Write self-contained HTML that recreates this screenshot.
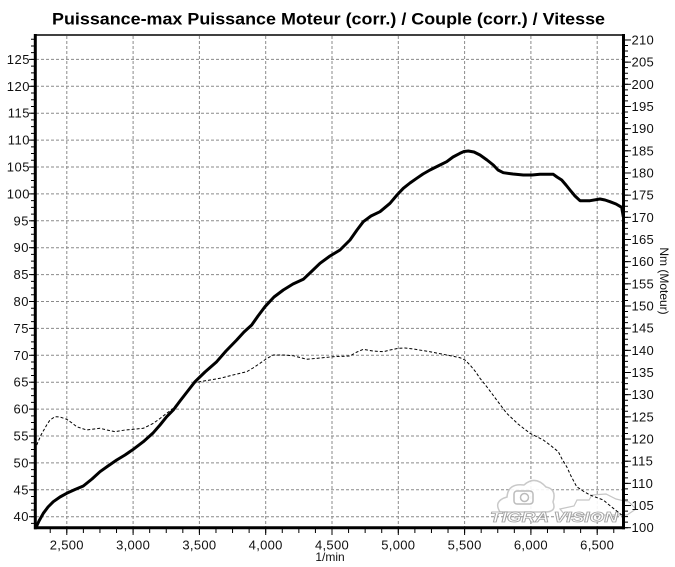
<!DOCTYPE html>
<html>
<head>
<meta charset="utf-8">
<style>
html,body{margin:0;padding:0;background:#fff;}
svg{display:block;}
text{font-family:"Liberation Sans",Arial,sans-serif;fill:#111;}
</style>
</head>
<body>
<svg width="675" height="567" viewBox="0 0 675 567" xmlns="http://www.w3.org/2000/svg">
<rect width="675" height="567" fill="#fff"/>

<!-- Title -->
<text x="52" y="24.5" font-size="17" font-weight="bold" textLength="553" lengthAdjust="spacingAndGlyphs" style="fill:#000">Puissance-max Puissance Moteur (corr.) / Couple (corr.) / Vitesse</text>

<!-- Horizontal grid -->
<g stroke="#8a8a8a" stroke-width="1" stroke-dasharray="3 2" fill="none">
<line x1="36" x2="623" y1="516.7" y2="516.7"/>
<line x1="36" x2="623" y1="489.8" y2="489.8"/>
<line x1="36" x2="623" y1="462.9" y2="462.9"/>
<line x1="36" x2="623" y1="436.0" y2="436.0"/>
<line x1="36" x2="623" y1="409.1" y2="409.1"/>
<line x1="36" x2="623" y1="382.2" y2="382.2"/>
<line x1="36" x2="623" y1="355.3" y2="355.3"/>
<line x1="36" x2="623" y1="328.4" y2="328.4"/>
<line x1="36" x2="623" y1="301.5" y2="301.5"/>
<line x1="36" x2="623" y1="274.6" y2="274.6"/>
<line x1="36" x2="623" y1="247.7" y2="247.7"/>
<line x1="36" x2="623" y1="220.8" y2="220.8"/>
<line x1="36" x2="623" y1="193.9" y2="193.9"/>
<line x1="36" x2="623" y1="167.0" y2="167.0"/>
<line x1="36" x2="623" y1="140.1" y2="140.1"/>
<line x1="36" x2="623" y1="113.2" y2="113.2"/>
<line x1="36" x2="623" y1="86.3" y2="86.3"/>
<line x1="36" x2="623" y1="59.4" y2="59.4"/>
<!-- Vertical grid -->
<line y1="36" y2="527" x1="66.8" x2="66.8"/>
<line y1="36" y2="527" x1="133.1" x2="133.1"/>
<line y1="36" y2="527" x1="199.4" x2="199.4"/>
<line y1="36" y2="527" x1="265.7" x2="265.7"/>
<line y1="36" y2="527" x1="332.0" x2="332.0"/>
<line y1="36" y2="527" x1="398.3" x2="398.3"/>
<line y1="36" y2="527" x1="464.6" x2="464.6"/>
<line y1="36" y2="527" x1="530.9" x2="530.9"/>
<line y1="36" y2="527" x1="597.2" x2="597.2"/>
</g>

<!-- Watermark -->
<g opacity="0.9">
<path d="M500,512 Q493,501 507,497 Q508,483 524,485 Q535,475 546,487 Q557,489 553,502 Q557,512 545,512 Z" fill="#fff" stroke="#c4c4c4" stroke-width="1.5"/>
<rect x="514" y="491" width="19" height="13" rx="3" fill="none" stroke="#b5b5b5" stroke-width="1.5"/>
<circle cx="524.5" cy="497.5" r="4" fill="none" stroke="#b5b5b5" stroke-width="1.5"/>
<path d="M560,509 L574,506 L577,500 L589,500 L592,495 L606,494 L616,499 L629,502 L636,509 L627,515 L565,515 Z" fill="#fff" stroke="#c0c0c0" stroke-width="1.2"/>
<text x="490" y="522" font-size="15" font-weight="bold" font-style="italic" textLength="128" lengthAdjust="spacingAndGlyphs" style="fill:#fff;stroke:#9a9a9a;stroke-width:0.8">TIGRA VISION</text>
</g>

<!-- Dashed curve (couple) -->
<polyline fill="none" stroke="#000" stroke-width="1" stroke-dasharray="3 2" points="36.7,445 41,435 46.7,425 50,420 55,416.7 60,417 66.7,419.3 72,423 76.7,426.7 86.7,430 100,428.3 107,430 115,431.7 125,430 133.3,429.3 143.3,428.3 150,425 153.3,423.3 160,418.5 166.7,413.3 173.3,408.3 180,400 186,392 193.3,383.3 200,381.7 210,380 220,378.3 233,375 246.7,371.7 253,368 260,363.3 266,359 273.3,355 283,355 293.3,355.7 306.7,359.3 320,358 333.3,356.7 350,356 357,352 363.3,349.3 373,351 383.3,351.7 390,350 398.3,348.3 405,348 413.3,349 430,351.7 446.7,355 460,357.7 465,360 470,365 475,371 480,378.3 487,387 496.7,400 506.7,413.3 518,424 530,433.3 543.3,440 550,445 558.3,451.7 562,459 566.7,466.7 571,476 576.7,486.7 583,491 590,495 603.3,500 608,504 613.3,508.3 618,512 621.7,515"/>

<!-- Solid curve (puissance) -->
<polyline fill="none" stroke="#000" stroke-width="3" stroke-linejoin="round" stroke-linecap="round" points="36,527.5 39,521 43.3,513.3 48,507 53.3,501.7 60,497 66.7,493.3 75,489.5 83.3,486 92,479 100,471.7 108,466 116.7,460 125,455 133.3,449.3 143.3,441.7 153.3,432.7 160,425 166.7,416.7 173.3,410 180,401 187,392 195,381.7 205,372 216.7,361.7 226,351 236.7,340 244,332 251.7,325 258,316 265,306.7 274,297 283.3,290 293,284 303.3,279.3 311,272 320,263.3 330,256 340,250 350,240 357,230 363.3,221.7 371,216 380,211.7 390,203.3 397,195 403.3,188.3 410,183 416.7,178.3 423,174 430,170 438,166 446.7,161.7 453,157 460,153.3 464,151.5 468.3,151 474,152 480,155 487,160 493.3,165 498,170 503.3,172.7 513,174 523.3,175 532,175 540,174.3 553.3,174.3 557,177 561.7,180 566,185 570,190 575,196 580,200.7 590,200.7 600,199 605,200 610,201.7 616,204 621.7,207.3 623.3,216.7"/>

<!-- Axes -->
<line x1="35" y1="35" x2="623.5" y2="35" stroke="#000" stroke-width="1.5"/>
<line x1="35.3" y1="34" x2="35.3" y2="529.2" stroke="#000" stroke-width="3"/>
<line x1="623.5" y1="34" x2="623.5" y2="529.2" stroke="#000" stroke-width="3"/>
<line x1="34" y1="527.7" x2="625" y2="527.7" stroke="#000" stroke-width="3"/>

<!-- Minor ticks -->
<line x1="32.5" y1="523.925" x2="32.5" y2="35" stroke="#000" stroke-width="3" stroke-dasharray="1 5.725"/>
<line x1="626.5" y1="528.2" x2="626.5" y2="35" stroke="#000" stroke-width="3" stroke-dasharray="1 4.5425"/>
<line x1="49.725" y1="531" x2="623" y2="531" stroke="#000" stroke-width="4" stroke-dasharray="1 15.575"/>

<!-- Major ticks left -->
<g stroke="#000" stroke-width="1">
<line x1="29" x2="35" y1="516.7" y2="516.7"/>
<line x1="29" x2="35" y1="489.8" y2="489.8"/>
<line x1="29" x2="35" y1="462.9" y2="462.9"/>
<line x1="29" x2="35" y1="436.0" y2="436.0"/>
<line x1="29" x2="35" y1="409.1" y2="409.1"/>
<line x1="29" x2="35" y1="382.2" y2="382.2"/>
<line x1="29" x2="35" y1="355.3" y2="355.3"/>
<line x1="29" x2="35" y1="328.4" y2="328.4"/>
<line x1="29" x2="35" y1="301.5" y2="301.5"/>
<line x1="29" x2="35" y1="274.6" y2="274.6"/>
<line x1="29" x2="35" y1="247.7" y2="247.7"/>
<line x1="29" x2="35" y1="220.8" y2="220.8"/>
<line x1="29" x2="35" y1="193.9" y2="193.9"/>
<line x1="29" x2="35" y1="167.0" y2="167.0"/>
<line x1="29" x2="35" y1="140.1" y2="140.1"/>
<line x1="29" x2="35" y1="113.2" y2="113.2"/>
<line x1="29" x2="35" y1="86.3" y2="86.3"/>
<line x1="29" x2="35" y1="59.4" y2="59.4"/>
</g>
<!-- Major ticks right -->
<g stroke="#000" stroke-width="1">
<line x1="624" x2="631" y1="527.7" y2="527.7"/>
<line x1="624" x2="631" y1="505.53" y2="505.53"/>
<line x1="624" x2="631" y1="483.36" y2="483.36"/>
<line x1="624" x2="631" y1="461.19" y2="461.19"/>
<line x1="624" x2="631" y1="439.02" y2="439.02"/>
<line x1="624" x2="631" y1="416.85" y2="416.85"/>
<line x1="624" x2="631" y1="394.68" y2="394.68"/>
<line x1="624" x2="631" y1="372.51" y2="372.51"/>
<line x1="624" x2="631" y1="350.34" y2="350.34"/>
<line x1="624" x2="631" y1="328.17" y2="328.17"/>
<line x1="624" x2="631" y1="306.0" y2="306.0"/>
<line x1="624" x2="631" y1="283.83" y2="283.83"/>
<line x1="624" x2="631" y1="261.66" y2="261.66"/>
<line x1="624" x2="631" y1="239.49" y2="239.49"/>
<line x1="624" x2="631" y1="217.32" y2="217.32"/>
<line x1="624" x2="631" y1="195.15" y2="195.15"/>
<line x1="624" x2="631" y1="172.98" y2="172.98"/>
<line x1="624" x2="631" y1="150.81" y2="150.81"/>
<line x1="624" x2="631" y1="128.64" y2="128.64"/>
<line x1="624" x2="631" y1="106.47" y2="106.47"/>
<line x1="624" x2="631" y1="84.3" y2="84.3"/>
<line x1="624" x2="631" y1="62.13" y2="62.13"/>
<line x1="624" x2="631" y1="39.96" y2="39.96"/>
</g>
<!-- Major ticks bottom -->
<g stroke="#000" stroke-width="1">
<line y1="528" y2="535" x1="66.8" x2="66.8"/>
<line y1="528" y2="535" x1="133.1" x2="133.1"/>
<line y1="528" y2="535" x1="199.4" x2="199.4"/>
<line y1="528" y2="535" x1="265.7" x2="265.7"/>
<line y1="528" y2="535" x1="332.0" x2="332.0"/>
<line y1="528" y2="535" x1="398.3" x2="398.3"/>
<line y1="528" y2="535" x1="464.6" x2="464.6"/>
<line y1="528" y2="535" x1="530.9" x2="530.9"/>
<line y1="528" y2="535" x1="597.2" x2="597.2"/>
</g>

<!-- Left labels -->
<g font-size="13" text-anchor="end" letter-spacing="0.5">
<text x="29" y="521.2">40</text>
<text x="29" y="494.3">45</text>
<text x="29" y="467.4">50</text>
<text x="29" y="440.5">55</text>
<text x="29" y="413.6">60</text>
<text x="29" y="386.7">65</text>
<text x="29" y="359.8">70</text>
<text x="29" y="332.9">75</text>
<text x="29" y="306.0">80</text>
<text x="29" y="279.1">85</text>
<text x="29" y="252.2">90</text>
<text x="29" y="225.3">95</text>
<text x="30" y="198.4">100</text>
<text x="30" y="171.5">105</text>
<text x="30" y="144.6">110</text>
<text x="30" y="117.7">115</text>
<text x="30" y="90.8">120</text>
<text x="30" y="63.9">125</text>
</g>

<!-- Right labels -->
<g font-size="13" letter-spacing="0.3">
<text x="631.5" y="532.2">100</text>
<text x="631.5" y="510.0">105</text>
<text x="631.5" y="487.9">110</text>
<text x="631.5" y="465.7">115</text>
<text x="631.5" y="443.5">120</text>
<text x="631.5" y="421.4">125</text>
<text x="631.5" y="399.2">130</text>
<text x="631.5" y="377.0">135</text>
<text x="631.5" y="354.8">140</text>
<text x="631.5" y="332.7">145</text>
<text x="631.5" y="310.5">150</text>
<text x="631.5" y="288.3">155</text>
<text x="631.5" y="266.2">160</text>
<text x="631.5" y="244.0">165</text>
<text x="631.5" y="221.8">170</text>
<text x="631.5" y="199.7">175</text>
<text x="631.5" y="177.5">180</text>
<text x="631.5" y="155.3">185</text>
<text x="631.5" y="133.1">190</text>
<text x="631.5" y="111.0">195</text>
<text x="631.5" y="88.8">200</text>
<text x="631.5" y="66.6">205</text>
<text x="631.5" y="44.5">210</text>
</g>

<!-- Bottom labels -->
<g font-size="13" text-anchor="middle" letter-spacing="0.3">
<text x="66.8" y="549.5">2,500</text>
<text x="133.1" y="549.5">3,000</text>
<text x="199.4" y="549.5">3,500</text>
<text x="265.7" y="549.5">4,000</text>
<text x="332.0" y="549.5">4,500</text>
<text x="398.3" y="549.5">5,000</text>
<text x="464.6" y="549.5">5,500</text>
<text x="530.9" y="549.5">6,000</text>
<text x="597.2" y="549.5">6,500</text>
</g>

<text x="330" y="561" font-size="12" text-anchor="middle">1/min</text>
<text transform="translate(660,281) rotate(90)" font-size="12" text-anchor="middle">Nm (Moteur)</text>
</svg>
</body>
</html>
